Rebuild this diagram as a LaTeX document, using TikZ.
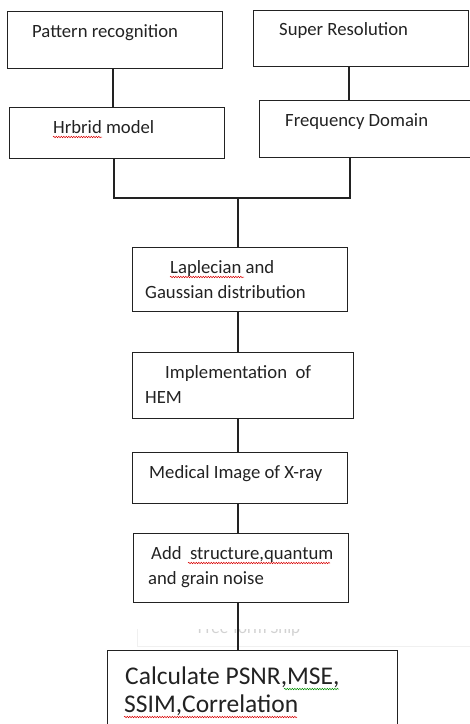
\documentclass[tikz,border=0pt]{standalone}
\usepackage{fontspec}
\setmainfont{Carlito}
\usetikzlibrary{decorations.pathmorphing}
\definecolor{ink}{HTML}{222222}
\tikzset{
  box/.style={draw=ink, line width=1.2pt, anchor=north west, inner sep=0pt},
  lbl/.style={anchor=base west, inner sep=0pt, text=ink, font=\fontsize{18.7}{22}\selectfont},
  biglbl/.style={anchor=base west, inner sep=0pt, text=ink, font=\fontsize{25.5}{29}\selectfont},
  conn/.style={draw=ink, line width=1.2pt},
  squig/.style={draw=red!85!black, line width=0.5pt, decorate, decoration={snake, amplitude=0.7pt, segment length=2.5pt}},
  squigg/.style={draw=green!55!black, line width=0.5pt, decorate, decoration={snake, amplitude=0.7pt, segment length=2.5pt}}
}
\begin{document}
\begin{tikzpicture}[x=1pt,y=-1pt]
\useasboundingbox (0,0) rectangle (470,724);
% ghost snip label
\begin{scope}
  \clip (137,629) rectangle (470,646);
  \fill[white] (137,620) rectangle (470,646);
  \draw[gray!12, line width=0.6pt] (137,620) -- (137,646) -- (470,646);
  \node[inner sep=0pt, text=gray!35, font=\fontsize{17}{20}\selectfont] (ghost) at (249,629) {Free-form Snip};
\end{scope}
% boxes
\node[box, minimum width=215pt, minimum height=57pt] (b1) at (7,11) {};
\node[box, minimum width=215pt, minimum height=56pt] (b2) at (253,10) {};
\node[box, minimum width=215pt, minimum height=51pt] (b3) at (9,107) {};
\node[box, minimum width=211pt, minimum height=57pt] (b4) at (259,100) {};
\node[box, minimum width=215pt, minimum height=64pt] (b5) at (132,247) {};
\node[box, minimum width=221pt, minimum height=66pt] (b6) at (132,352) {};
\node[box, minimum width=215pt, minimum height=51pt] (b7) at (132,452) {};
\node[box, minimum width=215pt, minimum height=69pt] (b8) at (133,533) {};
\node[box, minimum width=290pt, minimum height=100pt] (b9) at (107,650) {};
% texts
\node[lbl] (t1) at (32,37) {Pattern recognition};
\node[lbl] (t2) at (279,35) {Super Resolution};
\node[lbl] (t3) at (53,133) {Hrbrid model};
\node[lbl] (t4) at (285,126) {Frequency Domain};
\node[lbl] (t5a) at (170,273) {Laplecian and};
\node[lbl] (t5b) at (145,298) {Gaussian distribution};
\node[lbl] (t6a) at (165,378) {Implementation\ \ of};
\node[lbl] (t6b) at (145,403) {HEM};
\node[lbl] (t7) at (149,478) {Medical Image of X-ray};
\node[lbl] (t8a) at (151,559) {Add\ \ structure,quantum};
\node[lbl] (t8b) at (148,584) {and grain noise};
\node[biglbl] (t9a) at (125,684) {Calculate PSNR,MSE,};
\node[biglbl] (t9b) at (124,712) {SSIM,Correlation};
% spell-check squiggles
\draw[squig] (53,137) -- (102,137);
\draw[squig] (170,277) -- (244,277);
\draw[squig] (188,563) -- (330,563);
\draw[squigg] (284,689) -- (339,689);
\draw[squig] (124,717) -- (297,717);
% connectors
\coordinate (join) at (238,198);
\draw[conn] (b1.south -| 113,0) -- (113,107);
\draw[conn] (349,66) -- (349,100);
\draw[conn] (114,158) |- (join) -| (350,157);
\draw[conn] (join) -- (join |- b5.north);
\draw[conn] (238,311) -- (238,352);
\draw[conn] (238,418) -- (238,452);
\draw[conn] (238,503) -- (238,533);
\draw[conn] (238,602) -- (238,650);
\end{tikzpicture}
\end{document}
